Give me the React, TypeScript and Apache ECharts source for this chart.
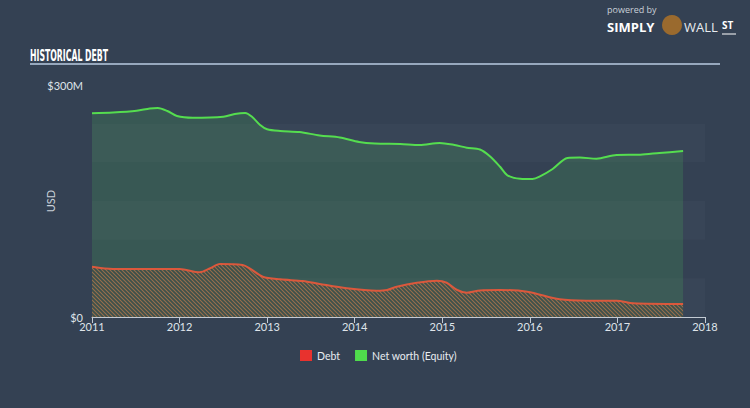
import React, { useEffect, useRef } from "react";
import * as echarts from "echarts";

const years = [2011, 2012, 2013, 2014, 2015, 2016, 2017, 2018];
const yTickLabels: Record<number, string> = { 0: "$0", 300: "$300M" };

// [decimal year, value in $M]
const equity: [number, number][] = [
  [2011.0, 263.4], [2011.24, 264.4], [2011.51, 266.7], [2011.66, 269.6], [2011.75, 270.2],
  [2011.86, 266.4], [2011.97, 259.9], [2012.15, 257.7], [2012.5, 259.0], [2012.63, 262.5],
  [2012.75, 263.8], [2012.83, 258.6], [2012.92, 248.3], [2013.0, 242.7], [2013.15, 240.5],
  [2013.37, 239.2], [2013.6, 234.7], [2013.83, 232.1], [2014.05, 226.3], [2014.23, 224.3],
  [2014.52, 223.7], [2014.74, 222.4], [2014.97, 225.0], [2015.14, 222.4], [2015.28, 218.9],
  [2015.43, 216.6], [2015.54, 208.2], [2015.66, 194.3], [2015.74, 183.6], [2015.89, 178.8],
  [2016.03, 178.4], [2016.11, 181.4], [2016.26, 191.4], [2016.43, 205.6], [2016.57, 206.2],
  [2016.76, 204.7], [2016.99, 209.5], [2017.26, 209.9], [2017.48, 212.1], [2017.75, 214.6],
];

const debt: [number, number][] = [
  [2011.0, 65.0], [2011.24, 62.1], [2012.0, 62.1], [2012.23, 57.8], [2012.35, 63.0],
  [2012.46, 68.5], [2012.72, 67.2], [2012.8, 63.0], [2012.95, 52.1], [2013.15, 48.7],
  [2013.41, 46.5], [2013.6, 42.7], [2013.91, 37.1], [2014.25, 34.0], [2014.37, 34.9],
  [2014.48, 39.2], [2014.71, 44.3], [2014.94, 46.9], [2015.05, 44.3], [2015.17, 34.9],
  [2015.28, 31.4], [2015.43, 34.3], [2015.66, 34.9], [2015.97, 32.7], [2016.34, 22.9],
  [2016.65, 21.1], [2016.99, 21.1], [2017.18, 17.7], [2017.75, 16.8],
];

function makeHatch(): HTMLCanvasElement {
  const c = document.createElement("canvas");
  c.width = 4;
  c.height = 4;
  const ctx = c.getContext("2d")!;
  ctx.fillStyle = "rgba(60,66,60,0.4)";
  ctx.fillRect(0, 0, 4, 4);
  ctx.strokeStyle = "rgba(215,130,75,0.6)";
  ctx.lineWidth = 1.1;
  ctx.beginPath();
  ctx.moveTo(-1, -1);
  ctx.lineTo(5, 5);
  ctx.moveTo(-1, 3);
  ctx.lineTo(1, 5);
  ctx.moveTo(3, -1);
  ctx.lineTo(5, 1);
  ctx.stroke();
  return c;
}

export default function App() {
  const ref = useRef<HTMLDivElement>(null);
  useEffect(() => {
    if (!ref.current) return;
    document.body.style.margin = "0";
    const chart = echarts.init(ref.current, null, { renderer: "svg" });
    const font = "Lato, 'Open Sans', sans-serif";
    chart.setOption({
      animation: false,
      backgroundColor: "#344153",
      textStyle: { fontFamily: font },
      grid: { left: 92, right: 45, top: 85, bottom: 91 },
      graphic: [
        {
          type: "text",
          left: 30,
          top: 47,
          scaleX: 0.54,
          style: {
            text: "HISTORICAL DEBT",
            fill: "#ffffff",
            font: "bold 16px 'DejaVu Sans Condensed', sans-serif",
          },
        },
        {
          type: "line",
          shape: { x1: 30, y1: 64, x2: 720, y2: 64 },
          style: { stroke: "#b8cbe0", lineWidth: 1.5 },
        },
        {
          type: "text",
          left: 607,
          top: 5,
          style: { text: "powered by", fill: "#c9d0d8", font: "9px 'Open Sans', sans-serif" },
        },
        {
          type: "text",
          left: 607,
          top: 20,
          style: { text: "SIMPLY", fill: "#ffffff", font: "bold 13px 'Open Sans', sans-serif" },
        },
        {
          type: "circle",
          shape: { cx: 672, cy: 25, r: 10 },
          style: { fill: "#9a6a2e" },
        },
        {
          type: "text",
          left: 684,
          top: 20,
          style: { text: "WALL", fill: "#e8ecf0", font: "13px 'Open Sans', sans-serif" },
        },
        {
          type: "text",
          left: 722,
          top: 20,
          style: { text: "ST", fill: "#ffffff", font: "bold 10px 'Open Sans', sans-serif" },
        },
        {
          type: "line",
          shape: { x1: 722, y1: 34, x2: 736, y2: 34 },
          style: { stroke: "#ffffff", lineWidth: 1 },
        },
      ],
      legend: {
        left: 295,
        top: 345,
        itemWidth: 12,
        itemHeight: 11,
        itemGap: 15,
        icon: "rect",
        textStyle: { color: "#e8ecf0", fontSize: 10.5, fontFamily: font },
        data: ["Debt", "Net worth (Equity)"],
      },
      xAxis: {
        type: "value",
        min: years[0],
        max: years[years.length - 1],
        interval: 1,
        axisLine: { show: true, lineStyle: { color: "#c3cbd4", width: 1 } },
        axisTick: { show: true, length: 6, lineStyle: { color: "#c3cbd4" } },
        axisLabel: {
          color: "#dfe4ea",
          fontSize: 11,
          margin: 4,
          formatter: (v: number) => (years.includes(v) ? String(v) : ""),
        },
        splitLine: { show: false },
      },
      yAxis: {
        type: "value",
        min: 0,
        max: 300,
        interval: 50,
        name: "USD",
        nameLocation: "middle",
        nameGap: 36,
        nameMoveOverlap: false,
        nameTextStyle: { color: "#c9d0d8", fontSize: 11 },
        axisLine: { show: false },
        axisTick: { show: false },
        axisLabel: {
          color: "#dfe4ea",
          fontSize: 11,
          margin: 9,
          formatter: (v: number) => yTickLabels[v] ?? "",
        },
        splitLine: { show: false },
        splitArea: {
          show: true,
          areaStyle: { color: ["rgba(255,255,255,0.025)", "rgba(255,255,255,0)"] },
        },
      },
      series: [
        {
          name: "Net worth (Equity)",
          type: "line",
          data: equity,
          smooth: 0.3,
          symbol: "none",
          itemStyle: { color: "#4fdc4c" },
          lineStyle: { color: "#55dd4f", width: 2 },
          areaStyle: { color: "rgba(80,200,90,0.25)", origin: "start" },
          z: 2,
        },
        {
          name: "Debt",
          type: "line",
          data: debt,
          smooth: 0.3,
          symbol: "none",
          itemStyle: { color: "#e8322e" },
          lineStyle: { color: "#dc583c", width: 2 },
          areaStyle: { color: { image: makeHatch(), repeat: "repeat" }, origin: "start", opacity: 1 },
          z: 3,
        },
      ],
    });
    return () => chart.dispose();
  }, []);
  return <div ref={ref} style={{ width: 750, height: 408 }} />;
}
